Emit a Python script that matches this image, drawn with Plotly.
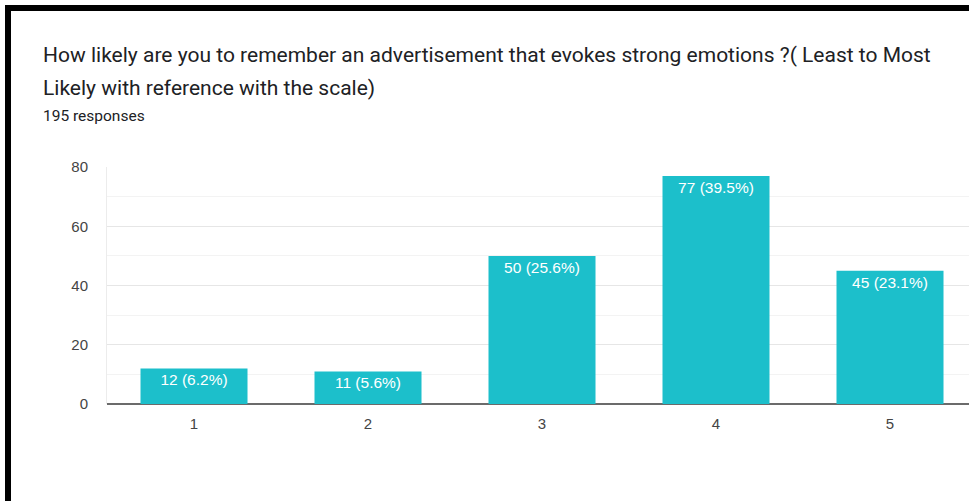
import plotly.graph_objects as go

# Survey answers on a 1-5 scale (least to most likely)
categories = ["1", "2", "3", "4", "5"]
counts = [12, 11, 50, 77, 45]
y_ticks = [0, 20, 40, 60, 80]

total = sum(counts)
percents = [round(c * 100.0 / total, 1) for c in counts]
labels = [f"{c} ({p:.1f}%)" for c, p in zip(counts, percents)]

W, H = 969, 501
L, R, T, B = 107, 0, 167, 97
plot_w = W - L - R
plot_h = H - T - B


def px_x(px):
    return (px - L) / plot_w


def px_y(py):
    return (H - B - py) / plot_h


fig = go.Figure(
    go.Bar(
        x=[int(c) for c in categories],
        y=counts,
        text=labels,
        textposition="inside",
        insidetextanchor="end",
        textangle=0,
        textfont=dict(family="Liberation Sans, Arial", size=15.5, color="white"),
        marker=dict(color="#1cbfcb", line=dict(width=0)),
        width=0.615,
        cliponaxis=False,
        hoverinfo="skip",
    )
)

fig.update_layout(
    width=W,
    height=H,
    margin=dict(l=L, r=R, t=T, b=B, pad=0),
    paper_bgcolor="white",
    plot_bgcolor="white",
    showlegend=False,
    xaxis=dict(
        range=[0.5, 0.5 + plot_w / 174.0],
        tickvals=[int(c) for c in categories],
        ticktext=categories,
        showgrid=False,
        zeroline=False,
        showline=False,
        ticks="outside",
        ticklen=6,
        tickcolor="rgba(0,0,0,0)",
        tickfont=dict(family="Liberation Sans, Arial", size=15, color="#444444"),
        fixedrange=True,
    ),
    yaxis=dict(
        range=[0, 80],
        tickvals=y_ticks,
        showgrid=True,
        gridcolor="#e6e6e6",
        gridwidth=1,
        minor=dict(dtick=10, showgrid=True, gridcolor="#f3f3f3", gridwidth=1),
        zeroline=True,
        zerolinecolor="#6b6b6b",
        zerolinewidth=2,
        showline=True,
        linecolor="#ececec",
        linewidth=1,
        ticks="outside",
        ticklen=15,
        tickcolor="rgba(0,0,0,0)",
        tickfont=dict(family="Liberation Sans, Arial", size=15, color="#444444"),
        fixedrange=True,
    ),
    annotations=[
        dict(
            text="How likely are you to remember an advertisement that evokes strong emotions ?( Least to Most",
            xref="paper", yref="paper", x=px_x(41), y=px_y(55),
            xanchor="left", yanchor="middle", showarrow=False,
            font=dict(family="Roboto", size=21, color="#202124"),
        ),
        dict(
            text="Likely with reference with the scale)",
            xref="paper", yref="paper", x=px_x(41), y=px_y(88),
            xanchor="left", yanchor="middle", showarrow=False,
            font=dict(family="Roboto", size=21, color="#202124"),
        ),
        dict(
            text="195 responses",
            xref="paper", yref="paper", x=px_x(41), y=px_y(116),
            xanchor="left", yanchor="middle", showarrow=False,
            font=dict(family="Roboto", size=15.5, color="#202124"),
        ),
    ],
    shapes=[
        # black frame along the top and left edges
        dict(type="rect", xref="paper", yref="paper",
             x0=px_x(5), x1=px_x(W + 5), y0=px_y(11), y1=px_y(5),
             fillcolor="black", line=dict(width=0), layer="above"),
        dict(type="rect", xref="paper", yref="paper",
             x0=px_x(5), x1=px_x(11), y0=px_y(H + 5), y1=px_y(5),
             fillcolor="black", line=dict(width=0), layer="above"),
    ],
)

fig.write_html("out.html")
